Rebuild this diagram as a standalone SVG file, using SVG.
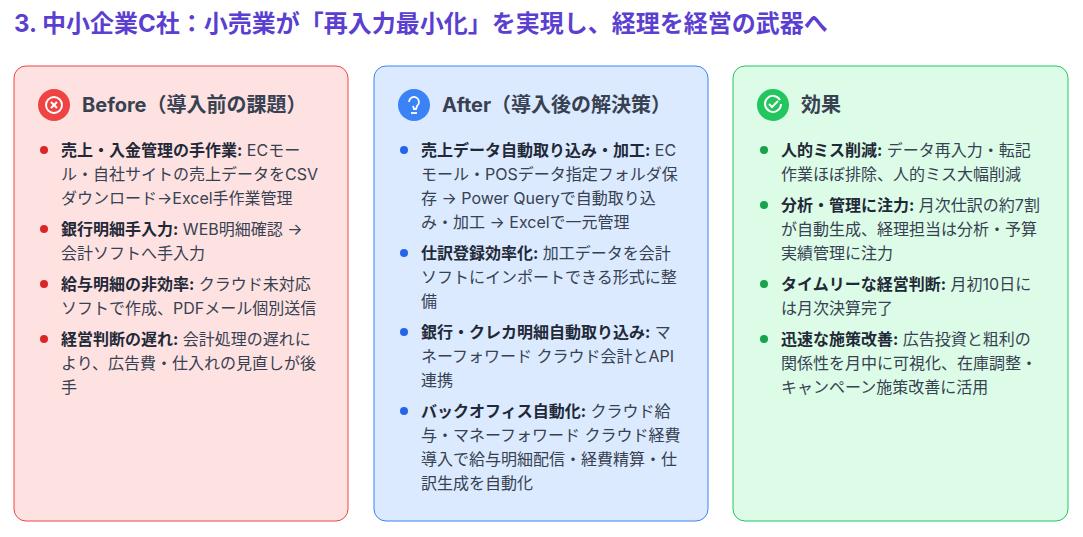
<svg xmlns="http://www.w3.org/2000/svg" width="1083" height="537" viewBox="0 0 1083 537">
<style>
text{font-family:Inter,"Noto Sans CJK JP","Noto Sans",sans-serif;fill:#374151}
.h{font-size:24px;font-weight:bold;fill:#5b3fd0}
.t{font-size:20px;font-weight:bold;fill:#374151}
.b{font-size:16px}
.k{font-weight:bold;fill:#1f2937}
</style>
<rect width="1083" height="537" fill="#fff"/>
<text class="h" x="14" y="32">3. 中小企業C社：小売業が「再入力最小化」を実現し、経理を経営の武器へ</text>
<g id="before">
<rect x="14" y="66" width="334" height="455" rx="12" fill="#fee2e2" stroke="#ef4444"/>
<circle cx="54" cy="105" r="16" fill="#ef4444"/>
<circle cx="54" cy="105" r="8" fill="none" stroke="#fff" stroke-width="2"/>
<path d="M51 102l6 6M57 102l-6 6" stroke="#fff" stroke-width="2"/>
<text class="t" x="82" y="112">Before（導入前の課題）</text>
<g fill="#dc2626"><circle cx="44" cy="150" r="4"/><circle cx="44" cy="229" r="4"/><circle cx="44" cy="284" r="4"/><circle cx="44" cy="339" r="4"/></g>
<text class="b" x="61" y="156"><tspan class="k">売上・入金管理の手作業:</tspan> ECモー</text>
<text class="b" x="61" y="180">ル・自社サイトの売上データをCSV</text>
<text class="b" x="61" y="204">ダウンロード→Excel手作業管理</text>
<text class="b" x="61" y="235"><tspan class="k">銀行明細手入力:</tspan> WEB明細確認 →</text>
<text class="b" x="61" y="259">会計ソフトへ手入力</text>
<text class="b" x="61" y="290"><tspan class="k">給与明細の非効率:</tspan> クラウド未対応</text>
<text class="b" x="61" y="314">ソフトで作成、PDFメール個別送信</text>
<text class="b" x="61" y="345"><tspan class="k">経営判断の遅れ:</tspan> 会計処理の遅れに</text>
<text class="b" x="61" y="369">より、広告費・仕入れの見直しが後</text>
<text class="b" x="61" y="393">手</text>
</g>
<g id="after">
<rect x="374" y="66" width="334" height="455" rx="12" fill="#dbeafe" stroke="#3b82f6"/>
<circle cx="414" cy="105" r="16" fill="#3b82f6"/>
<path d="M409 102a5 5 0 1 1 8 4l-1 3h-2l-1-3" fill="none" stroke="#fff" stroke-width="1.8"/>
<path d="M411 113h6" stroke="#fff" stroke-width="1.8"/>
<text class="t" x="442" y="112">After（導入後の解決策）</text>
<g fill="#2563eb"><circle cx="404" cy="150" r="4"/><circle cx="404" cy="253" r="4"/><circle cx="404" cy="332" r="4"/><circle cx="404" cy="411" r="4"/></g>
<text class="b" x="421" y="156"><tspan class="k">売上データ自動取り込み・加工:</tspan> EC</text>
<text class="b" x="421" y="180">モール・POSデータ指定フォルダ保</text>
<text class="b" x="421" y="204">存 → Power Queryで自動取り込</text>
<text class="b" x="421" y="228">み・加工 → Excelで一元管理</text>
<text class="b" x="421" y="259"><tspan class="k">仕訳登録効率化:</tspan> 加工データを会計</text>
<text class="b" x="421" y="283">ソフトにインポートできる形式に整</text>
<text class="b" x="421" y="307">備</text>
<text class="b" x="421" y="338"><tspan class="k">銀行・クレカ明細自動取り込み:</tspan> マ</text>
<text class="b" x="421" y="362">ネーフォワード クラウド会計とAPI</text>
<text class="b" x="421" y="386">連携</text>
<text class="b" x="421" y="417"><tspan class="k">バックオフィス自動化:</tspan> クラウド給</text>
<text class="b" x="421" y="441">与・マネーフォワード クラウド経費</text>
<text class="b" x="421" y="465">導入で給与明細配信・経費精算・仕</text>
<text class="b" x="421" y="489">訳生成を自動化</text>
</g>
<g id="effect">
<rect x="733" y="66" width="335" height="455" rx="12" fill="#dcfce7" stroke="#22c55e"/>
<circle cx="773" cy="105" r="16" fill="#22c55e"/>
<path d="M780 100a8 8 0 1 0 1 4" fill="none" stroke="#fff" stroke-width="2"/>
<path d="M769 104l3 3 6-6" fill="none" stroke="#fff" stroke-width="2"/>
<text class="t" x="801" y="112">効果</text>
<g fill="#16a34a"><circle cx="764" cy="150" r="4"/><circle cx="764" cy="205" r="4"/><circle cx="764" cy="284" r="4"/><circle cx="764" cy="339" r="4"/></g>
<text class="b" x="781" y="156"><tspan class="k">人的ミス削減:</tspan> データ再入力・転記</text>
<text class="b" x="781" y="180">作業ほぼ排除、人的ミス大幅削減</text>
<text class="b" x="781" y="211"><tspan class="k">分析・管理に注力:</tspan> 月次仕訳の約7割</text>
<text class="b" x="781" y="235">が自動生成、経理担当は分析・予算</text>
<text class="b" x="781" y="259">実績管理に注力</text>
<text class="b" x="781" y="290"><tspan class="k">タイムリーな経営判断:</tspan> 月初10日に</text>
<text class="b" x="781" y="314">は月次決算完了</text>
<text class="b" x="781" y="345"><tspan class="k">迅速な施策改善:</tspan> 広告投資と粗利の</text>
<text class="b" x="781" y="369">関係性を月中に可視化、在庫調整・</text>
<text class="b" x="781" y="393">キャンペーン施策改善に活用</text>
</g>
</svg>
